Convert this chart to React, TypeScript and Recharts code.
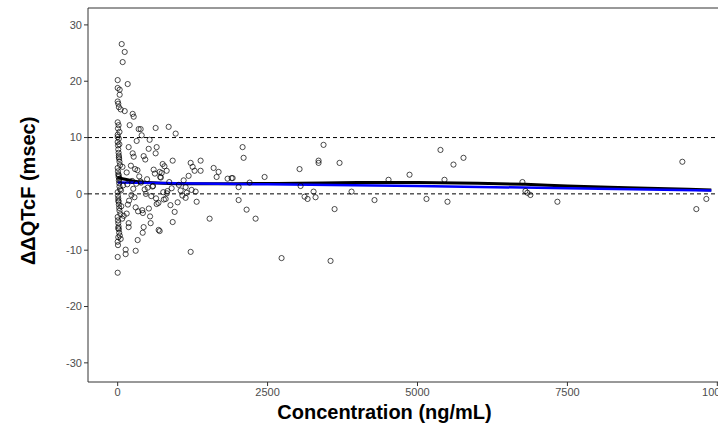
import { ComposedChart, Line, ReferenceArea, ReferenceLine, Scatter, XAxis, YAxis } from "recharts";

const xTicks = [0, 2500, 5000, 7500, 10000];
const yTicks = [-30, -20, -10, 0, 10, 20, 30];

// observed concentration (ng/mL) and ΔΔQTcF (msec)
const obsConc = [
  67, 117, 83, 0, 167, 0, 33, 33, 0, 10, 20, 50, 117, 250, 267, 0, 15, 5, 30, 0, 20, 200, 350, 383,
  633, 850, 967, 400, 533, 317, 650, 517, 183, 250, 267, 433, 633, 2083, 2100, 917, 750, 600, 817, 733,
  1217, 1250, 1383, 1383, 1183, 1283, 1600, 1683, 1650, 1833, 1900, 1917, 2017, 2200, 2450, 1133, 1150, 1233, 1300, 1133,
  1317, 2017, 2150, 2300, 1533, 917, 950, 1217, 2733, 683, 700, 550, 433, 417, 333, 300, 133, 133, 0, 183,
  183, 0, 3033, 3050, 3117, 3167, 3267, 3300, 3350, 3350, 3433, 3700, 3617, 3550, 3900, 4283, 4517, 4867, 5150, 5383,
  5450, 5500, 5600, 5767, 6750, 6800, 6833, 6883, 7333, 9417, 9650, 9817,
  0, 5, 10, 15, 20, 25, 30, 40, 0, 5, 10, 15, 20, 25, 30, 40, 0, 5, 10, 15, 20, 25, 30, 45,
  0, 5, 10, 15, 20, 25, 35, 50, 0, 5, 10, 20, 30, 60, 80, 100, 0, 8, 12, 18, 28, 55, 75, 90,
  150, 170, 220, 260, 300, 330, 380, 420, 460, 500, 560, 620, 680, 720, 780, 820, 880, 150, 190, 240,
  280, 310, 360, 410, 450, 490, 540, 590, 650, 700, 760, 800, 860, 900, 1000, 1050, 1100, 160, 230, 290,
  340, 390, 470, 520, 580, 640, 710, 770, 830, 1020, 1080,
];
const obsDqtc = [
  26.6, 25.2, 23.4, 20.2, 19.5, 18.8, 18.5, 17.6, 16.4, 16.0, 15.4, 15.0, 14.7, 14.2, 13.7, 12.7, 12.2, 11.6, 11.0, 10.5, 9.8, 12.2, 11.5, 11.5,
  11.7, 11.9, 10.7, 10.4, 9.6, 9.4, 8.3, 8.0, 8.3, 7.2, 6.6, 6.7, 7.2, 8.3, 6.4, 5.9, 5.3, 4.3, 4.1, 3.7,
  5.5, 4.8, 5.9, 4.1, 3.2, 4.1, 4.6, 3.9, 3.0, 2.7, 2.8, 2.8, 1.2, 2.0, 3.0, 1.2, 0.2, 0.7, 0.4, -0.7,
  -1.4, -1.1, -2.8, -4.4, -4.4, -5.0, -3.2, -10.3, -11.4, -6.4, -6.6, -5.2, -5.9, -6.9, -8.2, -10.1, -9.9, -10.7, -11.2, -5.9,
  -5.2, -14.0, 4.4, 1.4, -0.5, -0.9, 0.4, -0.6, 5.9, 5.5, 8.7, 5.5, -2.7, -11.9, 0.4, -1.1, 2.5, 3.4, -0.9, 7.8,
  2.5, -1.4, 5.2, 6.4, 2.1, 0.5, 0.2, -0.2, -1.4, 5.7, -2.7, -0.9,
  9.2, 8.6, 7.9, 7.3, 6.8, 6.2, 5.7, 5.1, 4.6, 4.0, 3.5, 3.0, 2.4, 1.9, 1.3, 0.8, 0.3, -0.3, -0.8, -1.4, -1.9, -2.5, -3.0, -3.6,
  -4.1, -4.7, -5.2, -5.8, -6.3, -6.9, -7.4, -8.0, -8.5, -9.1, -7.7, 6.5, 2.7, -2.2, 4.8, -3.9, 10.1, -6.1, -1.2, 3.3, 8.8, 0.6, -4.4, 1.5,
  3.8, -1.9, 5.0, 0.9, -2.4, 4.2, 2.2, -3.4, 6.1, 1.1, -0.4, 3.6, -1.6, 2.9, 4.9, 0.1, -2.0, -3.5, -1.2, 2.3,
  -0.6, 1.8, 3.1, -2.9, 0.8, 2.6, -4.0, 1.4, -1.8, 3.9, 0.3, -0.9, 2.1, 1.0, -1.5, 0.6, 2.4, 1.7, -0.2, 4.4,
  -3.1, 2.0, 0.0, -2.6, 1.3, -0.8, 3.0, -1.0, 0.5, 1.6, -0.3,
];

// loess-like smooth (black) and linear model prediction (blue)
const smoothConc = [0, 250, 500, 1000, 2000, 3000, 4000, 5000, 6000, 6800, 7500, 8500, 9900];
const smoothDqtc = [2.9, 2.3, 2.0, 1.8, 1.8, 1.9, 2.0, 2.0, 1.9, 1.7, 1.4, 1.1, 0.7];
const modelConc = [0, 2500, 5000, 7500, 9900];
const modelDqtc = [2.0, 1.7, 1.4, 1.0, 0.6];

const points = obsConc.map((c, i) => ({ x: c, y: obsDqtc[i] }));
const smooth = smoothConc.map((c, i) => ({ x: c, y: smoothDqtc[i] }));
const model = modelConc.map((c, i) => ({ x: c, y: modelDqtc[i] }));

const OpenCircle = (props: any) => (
  <circle cx={props.cx} cy={props.cy} r={2.6} fill="none" stroke="#000" strokeWidth={0.7} />
);

const font = "Arial, Liberation Sans, sans-serif";
const tick = { fill: "#4d4d4d", fontSize: 11, fontFamily: font };

export default function App() {
  return (
    <div style={{ position: "absolute", left: 0, top: 0, width: 718, height: 432, overflow: "hidden", background: "#fff" }}>
      <ComposedChart width={746} height={432} margin={{ top: 8, right: 5, left: 0, bottom: 0 }}>
        <XAxis
          type="number"
          dataKey="x"
          domain={[-495, 10395]}
          ticks={xTicks}
          tick={tick}
          tickLine={{ stroke: "#333" }}
          tickSize={4}
          axisLine={false}
          height={50}
          allowDataOverflow
          label={{ value: "Concentration (ng/mL)", position: "insideBottom", offset: 13, dx: -30, style: { fontSize: 20, fontWeight: "bold", fill: "#000", fontFamily: font } }}
        />
        <YAxis
          type="number"
          dataKey="y"
          domain={[-33.4, 33]}
          ticks={yTicks}
          tick={tick}
          tickLine={{ stroke: "#333" }}
          tickSize={4}
          axisLine={false}
          width={88}
          allowDataOverflow
          label={{ value: "ΔΔQTcF (msec)", angle: -90, position: "insideLeft", offset: 28, dy: 70, style: { fontSize: 20, fontWeight: "bold", fill: "#000", fontFamily: font } }}
        />
        <ReferenceLine y={0} stroke="#000" strokeDasharray="4 3" />
        <ReferenceLine y={10} stroke="#000" strokeDasharray="4 3" />
        <Scatter data={points} shape={OpenCircle} isAnimationActive={false} />
        <Line data={smooth} dataKey="y" type="monotone" stroke="#000" strokeWidth={3} dot={false} isAnimationActive={false} />
        <Line data={model} dataKey="y" type="linear" stroke="#0000ff" strokeWidth={2.5} dot={false} isAnimationActive={false} />
        <ReferenceArea x1={-495} x2={10395} y1={-33.4} y2={33} fill="none" stroke="#333" strokeWidth={1} />
      </ComposedChart>
    </div>
  );
}
